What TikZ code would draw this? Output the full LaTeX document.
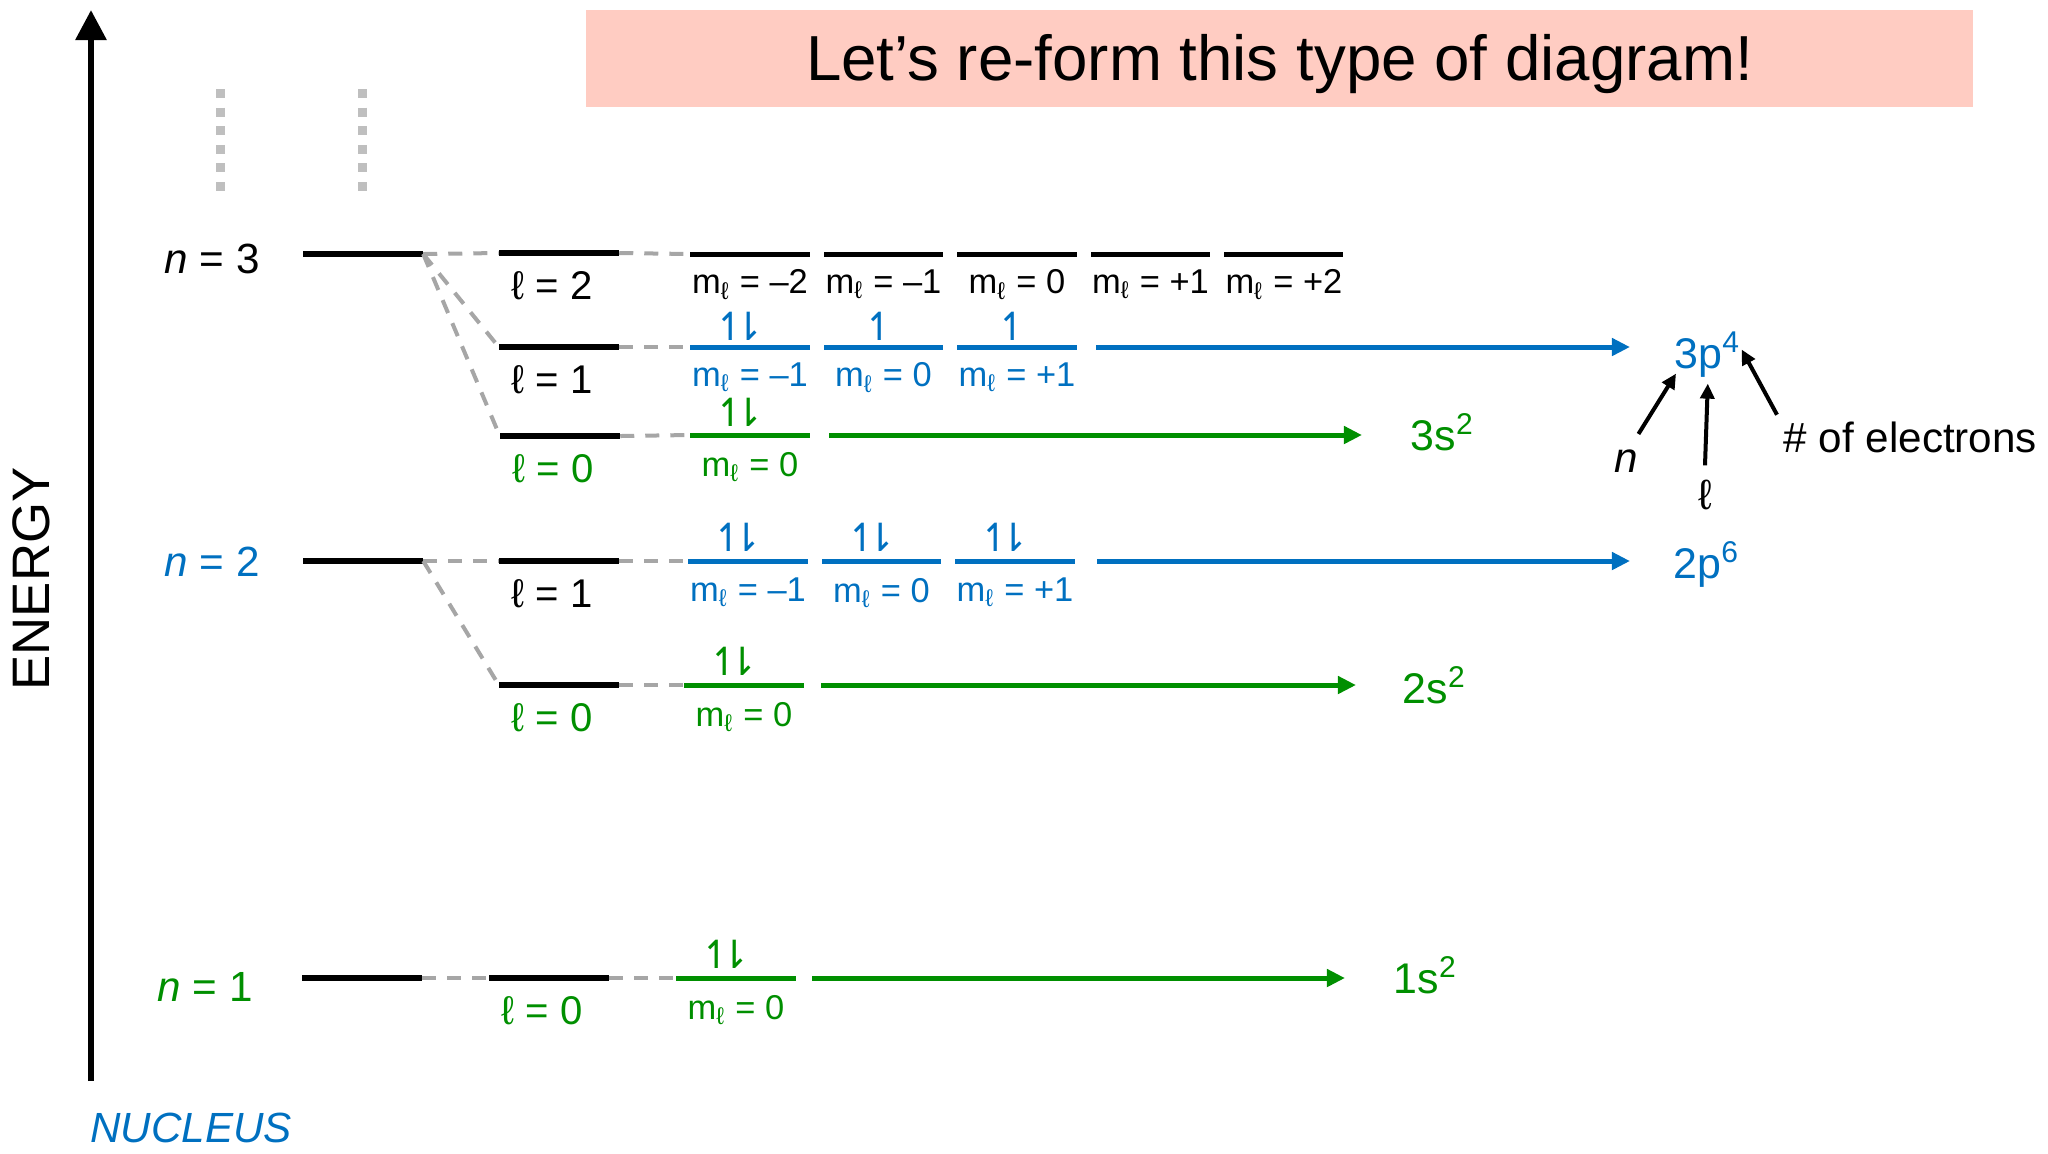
\documentclass[tikz,border=0pt]{standalone}
\usepackage{fontspec}
\setmainfont{Liberation Sans}
\newfontfamily\arrowfont{DejaVu Sans}
\usepackage{tikz}
\usetikzlibrary{arrows.meta,positioning}

\definecolor{orbblue}{RGB}{0,112,192}
\definecolor{orbgreen}{RGB}{0,143,0}
\definecolor{linkgray}{RGB}{166,166,166}
\definecolor{dotgray}{RGB}{191,191,191}
\definecolor{titlepink}{RGB}{255,204,194}

\newcommand{\mlval}[1]{m\textsubscript{ℓ} = #1}
\newcommand{\spinpair}{↿\kern-0.38em⇂}
\newcommand{\spinup}{↿}

\begin{document}
\begin{tikzpicture}[x=0.01cm, y=-0.01cm,
  lvl/.style={fill=black, inner sep=0pt, minimum width=1.19cm, minimum height=0.06cm},
  orb/.style={fill=#1, inner sep=0pt, minimum width=1.19cm, minimum height=0.05cm},
  link/.style={draw=linkgray, line width=0.04cm, dash pattern=on 0.14cm off 0.11cm},
  arr/.style={-{Triangle[length=0.18cm, width=0.17cm]}, line width=0.05cm, draw=#1, fill=#1},
  ann/.style={-{Triangle[length=0.15cm, width=0.14cm]}, line width=0.04cm},
  nlbl/.style={inner sep=0pt, font=\fontsize{12}{14}\selectfont},
  llbl/.style={inner sep=0pt, font=\fontsize{11.4}{13}\selectfont},
  mlbl/.style={inner sep=0pt, font=\fontsize{9.8}{11}\selectfont},
  spin/.style={inner sep=0pt, font=\fontsize{11}{13}\arrowfont},
  cfg/.style={inner sep=0pt, anchor=base west, font=\fontsize{12.2}{14}\selectfont}]
\useasboundingbox (0,0) rectangle (2048,1153);

% title banner
\node[fill=titlepink, minimum width=13.87cm, minimum height=0.97cm, inner sep=0pt,
      text height=0.46cm, text depth=0.03cm, font=\fontsize{18.1}{20}\selectfont]
      (title) at (1279.5,58.5) {Let’s re-form this type of diagram!};

% energy axis
\coordinate (axbot) at (91,1081);
\coordinate (axtop) at (91,10);
\draw[-{Triangle[length=0.3cm, width=0.3cm]}, line width=0.06cm] (axbot) -- (axtop);
\node[rotate=90, inner sep=0pt, font=\fontsize{15}{18}\selectfont] (energy) at (31,579) {ENERGY};
\node[inner sep=0pt, text=orbblue, font=\fontsize{12}{14}\selectfont\itshape] (nucleus) at (191,1128) {NUCLEUS};

% higher shells
\draw[dotgray, line width=0.09cm, dash pattern=on 0.09cm off 0.096cm] (220,89) -- (220,191);
\draw[dotgray, line width=0.09cm, dash pattern=on 0.09cm off 0.096cm] (362,89) -- (362,191);

% result labels
\node[cfg, text=orbblue] (p3) at (1674,368) {3p\textsuperscript{4}};
\node[cfg, text=orbgreen] (s3) at (1410,450) {3s\textsuperscript{2}};
\node[cfg, text=orbblue] (p2) at (1673,578) {2p\textsuperscript{6}};
\node[cfg, text=orbgreen] (s2) at (1402,703) {2s\textsuperscript{2}};
\node[cfg, text=orbgreen] (s1) at (1393,993) {1s\textsuperscript{2}};

% ---- n = 3 ----
\node[nlbl] (n3lbl) at (212,259) {\textit{n} = 3};
\node[lvl] (n3) at (363,254) {};
\node[lvl] (l32) at (559,253) {};
\node[lvl] (l31) at (559,347) {};
\node[lvl] (l30) at (560,436) {};
\node[llbl, below=0.14cm of l32, xshift=-0.07cm] {ℓ = 2};
\node[llbl, below=0.14cm of l31, xshift=-0.07cm] {ℓ = 1};
\node[llbl, below=0.14cm of l30, xshift=-0.07cm, text=orbgreen] {ℓ = 0};
\draw[link] (n3.east) -- (l32.west);
\draw[link] (n3.east) -- (l31.west);
\draw[link] (n3.east) -- (l30.west);

\node[orb=black] (m32a) at (750,254) {};
\node[orb=black, right=0.13cm of m32a] (m32b) {};
\node[orb=black, right=0.13cm of m32b] (m32c) {};
\node[orb=black, right=0.13cm of m32c] (m32d) {};
\node[orb=black, right=0.13cm of m32d] (m32e) {};
\node[mlbl, below=0.12cm of m32a] {\mlval{–2}};
\node[mlbl, below=0.12cm of m32b] {\mlval{–1}};
\node[mlbl, below=0.12cm of m32c] {\mlval{0}};
\node[mlbl, below=0.12cm of m32d] {\mlval{+1}};
\node[mlbl, below=0.12cm of m32e] {\mlval{+2}};
\draw[link] (l32.east) -- (m32a.west);

\node[orb=orbblue] (m31a) at (750,347) {};
\node[orb=orbblue, right=0.13cm of m31a] (m31b) {};
\node[orb=orbblue, right=0.13cm of m31b] (m31c) {};
\node[mlbl, text=orbblue, below=0.12cm of m31a] {\mlval{–1}};
\node[mlbl, text=orbblue, below=0.12cm of m31b] {\mlval{0}};
\node[mlbl, text=orbblue, below=0.12cm of m31c] {\mlval{+1}};
\node[spin, text=orbblue, above=0.03cm of m31a, xshift=-0.1cm] {\spinpair};
\node[spin, text=orbblue, above=0.03cm of m31b, xshift=-0.04cm] {\spinup};
\node[spin, text=orbblue, above=0.03cm of m31c, xshift=-0.04cm] {\spinup};
\draw[link] (l31.east) -- (m31a.west);
\draw[arr=orbblue, shorten <=0.19cm, shorten >=0.44cm] (m31c.east) -- (m31c.east -| p3.west);

\node[orb=orbgreen] (m30a) at (750,435) {};
\node[mlbl, text=orbgreen, below=0.13cm of m30a] {\mlval{0}};
\node[spin, text=orbgreen, above=0.05cm of m30a, xshift=-0.1cm] {\spinpair};
\draw[link] (l30.east) -- (m30a.west);
\draw[arr=orbgreen, shorten <=0.19cm, shorten >=0.48cm] (m30a.east) -- (m30a.east -| s3.west);

% ---- n = 2 ----
\node[nlbl, text=orbblue] (n2lbl) at (212,562) {\textit{n} = 2};
\node[lvl] (n2) at (363,561) {};
\node[lvl] (l21) at (559,561) {};
\node[lvl] (l20) at (559,685) {};
\node[llbl, below=0.14cm of l21, xshift=-0.07cm] {ℓ = 1};
\node[llbl, below=0.14cm of l20, xshift=-0.07cm, text=orbgreen] {ℓ = 0};
\draw[link] (n2.east) -- (l21.west);
\draw[link] (n2.east) -- (l20.west);

\node[orb=orbblue] (m21a) at (748,561) {};
\node[orb=orbblue, right=0.13cm of m21a] (m21b) {};
\node[orb=orbblue, right=0.13cm of m21b] (m21c) {};
\node[mlbl, text=orbblue, below=0.13cm of m21a] {\mlval{–1}};
\node[mlbl, text=orbblue, below=0.13cm of m21b] {\mlval{0}};
\node[mlbl, text=orbblue, below=0.13cm of m21c] {\mlval{+1}};
\node[spin, text=orbblue, above=0.06cm of m21a, xshift=-0.1cm] {\spinpair};
\node[spin, text=orbblue, above=0.06cm of m21b, xshift=-0.1cm] {\spinpair};
\node[spin, text=orbblue, above=0.06cm of m21c, xshift=-0.1cm] {\spinpair};
\draw[link] (l21.east) -- (m21a.west);
\draw[arr=orbblue, shorten <=0.22cm, shorten >=0.43cm] (m21c.east) -- (m21c.east -| p2.west);

\node[orb=orbgreen] (m20a) at (744,685) {};
\node[mlbl, text=orbgreen, below=0.13cm of m20a] {\mlval{0}};
\node[spin, text=orbgreen, above=0.06cm of m20a, xshift=-0.1cm] {\spinpair};
\draw[link] (l20.east) -- (m20a.west);
\draw[arr=orbgreen, shorten <=0.17cm, shorten >=0.46cm] (m20a.east) -- (m20a.east -| s2.west);

% ---- n = 1 ----
\node[nlbl, text=orbgreen] (n1lbl) at (205,987) {\textit{n} = 1};
\node[lvl] (n1) at (362,978) {};
\node[lvl] (l10) at (549,978) {};
\node[llbl, below=0.14cm of l10, xshift=-0.07cm, text=orbgreen] {ℓ = 0};
\draw[link] (n1.east) -- (l10.west);

\node[orb=orbgreen] (m10a) at (736,978) {};
\node[mlbl, text=orbgreen, below=0.13cm of m10a] {\mlval{0}};
\node[spin, text=orbgreen, above=0.06cm of m10a, xshift=-0.1cm] {\spinpair};
\draw[link] (l10.east) -- (m10a.west);
\draw[arr=orbgreen, shorten <=0.16cm, shorten >=0.48cm] (m10a.east) -- (m10a.east -| s1.west);

% reading 3p^4
\node[nlbl, font=\fontsize{12}{14}\selectfont\itshape] (nsym) at (1626,461) {n};
\node[nlbl] (lsym) at (1705,495) {ℓ};
\node[nlbl, anchor=base west] (elec) at (1783,452) {\# of electrons};
\draw[ann] ([yshift=0.15cm]nsym.north east) -- ([xshift=0.02cm, yshift=0.04cm]p3.south west);
\draw[ann] ([yshift=0.14cm]lsym.north) -- ([yshift=-0.06cm]p3.south);
\draw[ann] ([xshift=-0.06cm, yshift=0.06cm]elec.north west) -- ([yshift=0.05cm]p3.east);
\end{tikzpicture}
\end{document}
